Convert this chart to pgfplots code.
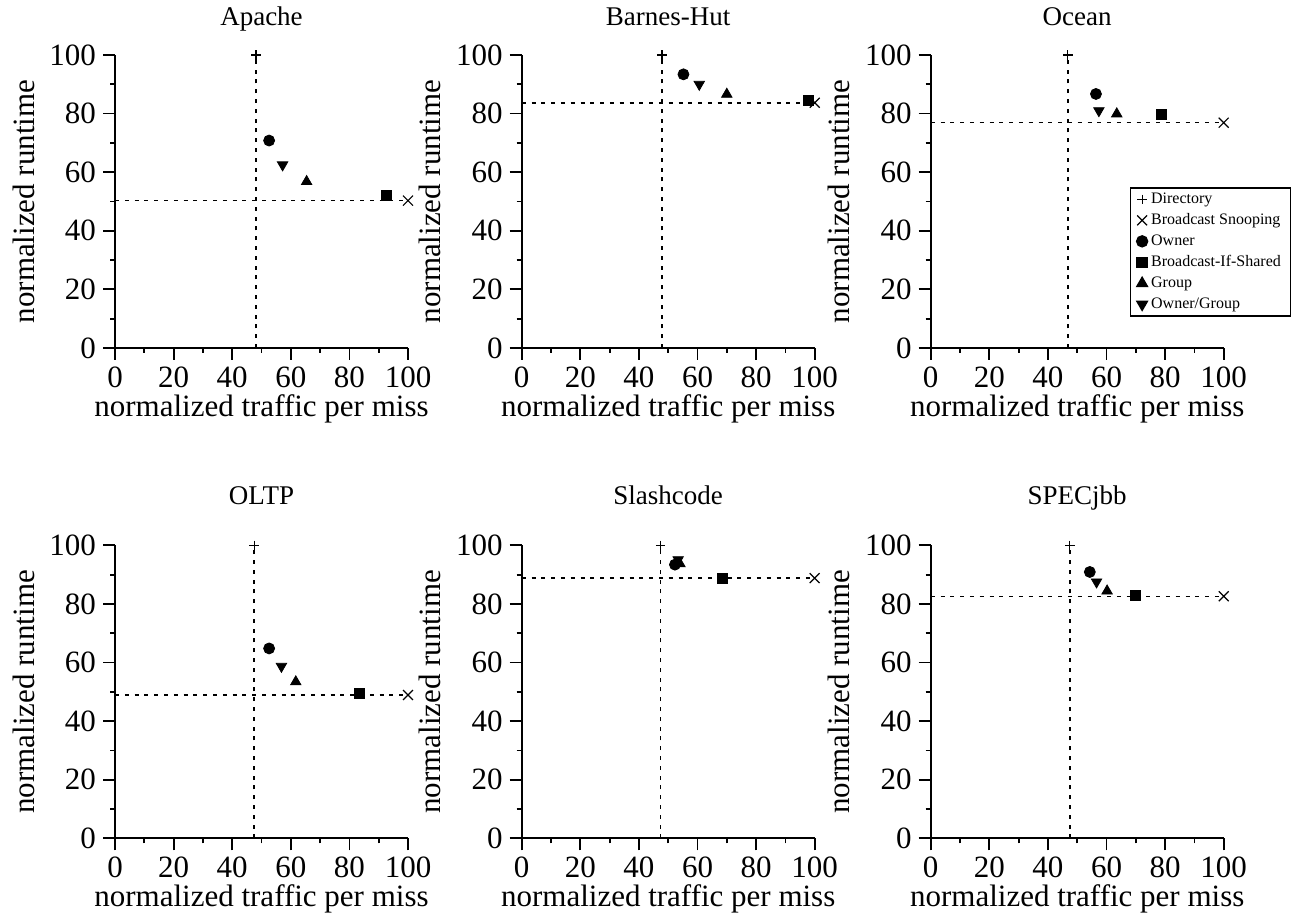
\documentclass[border=0pt]{standalone}
\usepackage{fontspec}
\setmainfont{Liberation Serif}
\usepackage{pgfplots}
\pgfplotsset{compat=1.18}
\pgfplotsset{
  sub/.style={
    scale only axis, width=146.5pt, height=146.5pt,
    anchor=south west,
    xmin=0,xmax=100,ymin=0,ymax=100,
    axis lines*=left,
    axis line style={line width=0.9pt},
    xtick={0,20,...,100}, ytick={0,20,...,100},
    minor xtick={10,30,...,90}, minor ytick={10,30,...,90},
    tick align=outside,
    major tick length=6pt, minor tick length=2.5pt,
    every tick/.style={line width=0.9pt, black},
    /pgf/number format/assume math mode=true,
    ticklabel style={font=\fontsize{15.5}{18}\selectfont},
    every axis title/.style={font=\fontsize{13.5}{16}\selectfont, at={(0.5,1)}, anchor=base},
    xlabel={normalized traffic per miss},
    ylabel={normalized runtime},
    every axis x label/.style={at={(0.5,0)}, anchor=base, yshift=-34.3pt, font=\fontsize{15.5}{18}\selectfont},
    every axis y label/.style={at={(0,0.5)}, anchor=base, rotate=90, yshift=40.5pt, font=\fontsize{15.5}{18}\selectfont},
    clip=false,
    legend style={at={(axis description cs:0.68,0.549)}, anchor=north west,
      font=\fontsize{8}{9.6}\selectfont, draw=black, line width=0.7pt,
      inner xsep=3pt, inner ysep=0.5pt,
      nodes={inner sep=1.75pt, text height=5.8pt, text depth=1.2pt}},
    legend cell align=left,
    legend image code/.code={\draw[#1] plot coordinates {(0pt,0pt)};},
  },
  toprow/.style={title style={yshift=14.5pt}},
  botrow/.style={title style={yshift=20.5pt}},
  dots/.style={black, line width=0.75pt, dash pattern=on 2pt off 2.9pt, forget plot},
  dirm/.style={only marks, black, mark=+, mark size=2.4pt, mark options={line width=0.6pt}},
  bsm/.style={only marks, black, mark=x, mark size=3.5pt, mark options={line width=0.6pt}},
  ownm/.style={only marks, black, mark=*, mark size=2.75pt},
  bism/.style={only marks, black, mark=square*, mark size=2.5pt},
  grpm/.style={only marks, black, mark=triangle*, mark size=3pt},
  ogm/.style={only marks, black, mark=triangle*, mark size=3pt, mark options={rotate=180}},
}
% #1 options, #2 directory x, #3 broadcast y, #4 owner, #5 BIS, #6 group, #7 owner/group
\newcommand\panel[7]{%
\begin{axis}[sub,#1]
\addplot[dots] coordinates {(#2,0) (#2,100)};
\addplot[dots] coordinates {(0,#3) (100,#3)};
\addplot[dirm] coordinates {(#2,100)};
\addplot[bsm] coordinates {(100,#3)};
\addplot[ownm] coordinates {#4};
\addplot[bism] coordinates {#5};
\addplot[grpm] coordinates {#6};
\addplot[ogm] coordinates {#7};
\end{axis}}
\begin{document}
\begin{tikzpicture}
\path[use as bounding box] (0,0) rectangle (650.5pt,461pt);
\panel{toprow, at={(57.5pt,287pt)}, title=Apache}{48.1}{50.3}{(52.6,70.8)}{(92.7,52.0)}{(65.4,56.8)}{(57.2,62.5)}
\panel{toprow, at={(260.85pt,287pt)}, title=Barnes-Hut}{47.9}{83.7}{(55.2,93.4)}{(97.8,84.4)}{(70.0,86.6)}{(60.6,90.0)}
\panel{toprow, at={(465.35pt,287pt)}, title=Ocean, legend entries={Directory,Broadcast Snooping,Owner,Broadcast-If-Shared,Group,Owner/Group}}{46.8}{76.9}{(56.4,86.7)}{(78.6,79.8)}{(63.5,79.9)}{(57.4,81.0)}
\panel{botrow, at={(57.5pt,41.85pt)}, title=OLTP}{47.5}{48.9}{(52.6,64.8)}{(83.5,49.4)}{(61.7,53.4)}{(56.8,58.7)}
\panel{botrow, at={(260.85pt,41.85pt)}, title=Slashcode}{47.4}{88.8}{(52.3,93.4)}{(68.4,88.6)}{(54.0,93.7)}{(53.4,95.1)}
\panel{botrow, at={(465.35pt,41.85pt)}, title=SPECjbb}{47.5}{82.6}{(54.3,90.9)}{(70.0,83.0)}{(60.2,84.4)}{(56.6,87.5)}
\end{tikzpicture}
\end{document}
